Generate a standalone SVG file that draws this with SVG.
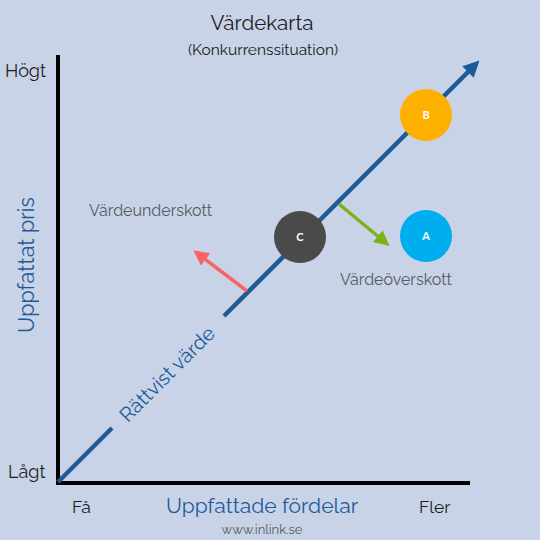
<svg xmlns="http://www.w3.org/2000/svg" width="540" height="540" viewBox="0 0 540 540">
<defs>
<style>
.t{font-family:Raleway,Lato,"Open Sans","Liberation Sans",sans-serif;}
.dark{fill:#1c1c1c;}
.blue{fill:#1d5b98;}
.grey{fill:#555a60;}
.lbl{fill:#ffffff;font-family:Lato,"Liberation Sans",sans-serif;font-weight:bold;font-size:11px;text-anchor:middle;}
</style>
<marker id="ab" viewBox="0 0 10 10" refX="7" refY="5" markerWidth="3.6" markerHeight="3.6" orient="auto"><path d="M0,0 L10,5 L0,10 z" fill="#1d5b98"/></marker>
<marker id="ag" viewBox="0 0 10 10" refX="7" refY="5" markerWidth="4.4" markerHeight="4.4" orient="auto"><path d="M0,0 L10,5 L0,10 z" fill="#7ab317"/></marker>
<marker id="ar" viewBox="0 0 10 10" refX="7" refY="5" markerWidth="4.4" markerHeight="4.4" orient="auto"><path d="M0,0 L10,5 L0,10 z" fill="#f86565"/></marker>
</defs>
<rect width="540" height="540" fill="#c9d3e7"/>
<g id="connectors">
<line x1="58" y1="55" x2="58" y2="485" stroke="#000" stroke-width="4"/>
<line x1="56" y1="483" x2="470" y2="483" stroke="#000" stroke-width="4"/>
<line x1="58" y1="482" x2="112" y2="428" stroke="#1d5b98" stroke-width="4.5"/>
<line x1="224" y1="316" x2="476" y2="64" stroke="#1d5b98" stroke-width="4.5" marker-end="url(#ab)"/>
<line x1="339" y1="204" x2="386" y2="243" stroke="#7ab317" stroke-width="3.5" marker-end="url(#ag)"/>
<line x1="247" y1="291" x2="197" y2="253" stroke="#f86565" stroke-width="3.5" marker-end="url(#ar)"/>
</g>
<g id="nodeB"><circle cx="426" cy="115" r="26" fill="#fdb000"/><text class="lbl" x="426" y="119">B</text></g>
<g id="nodeC"><circle cx="300" cy="237" r="26" fill="#4a4a4a"/><text class="lbl" x="300" y="241">C</text></g>
<g id="nodeA"><circle cx="426" cy="236" r="26" fill="#00aeef"/><text class="lbl" x="426" y="240">A</text></g>
<g id="labels">
<text class="t dark" x="262" y="30" font-size="20.5" text-anchor="middle">Värdekarta</text>
<text class="t dark" x="263" y="55" font-size="15.5" text-anchor="middle">(Konkurrenssituation)</text>
<text class="t dark" x="5" y="77" font-size="18">Högt</text>
<text class="t dark" x="8" y="478" font-size="18">Lågt</text>
<text class="t dark" x="72" y="513" font-size="17.5">Få</text>
<text class="t dark" x="419" y="513" font-size="17.5">Fler</text>
<text class="t blue" x="262" y="513" font-size="21" text-anchor="middle">Uppfattade fördelar</text>
<text class="t grey" x="262" y="534" font-size="13" text-anchor="middle">www.inlink.se</text>
<text class="t blue" x="0" y="0" font-size="21.5" text-anchor="middle" transform="translate(34,265) rotate(-90)">Uppfattat pris</text>
<text class="t grey" x="89" y="216" font-size="16">Värdeunderskott</text>
<text class="t grey" x="340" y="285" font-size="16">Värdeöverskott</text>
<text class="t blue" x="0" y="0" font-size="20" text-anchor="middle" transform="translate(172,379) rotate(-45)">Rättvist värde</text>
</g>
</svg>
